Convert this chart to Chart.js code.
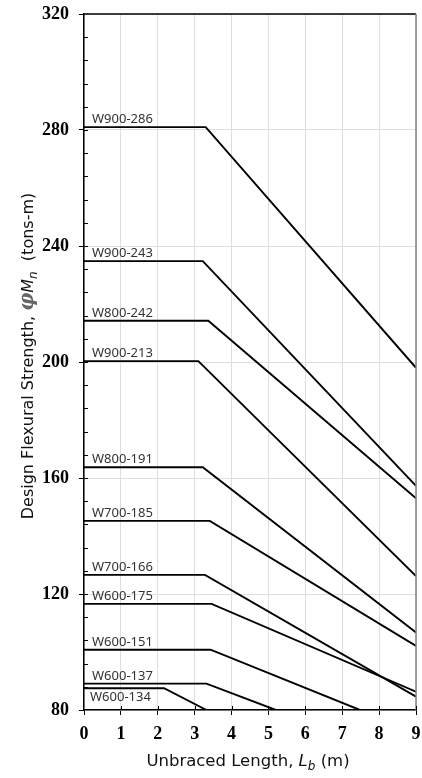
<!DOCTYPE html>
<html>

<head>
    <script src="https://cdn.jsdelivr.net/npm/chart.js@4.4.2/dist/chart.umd.min.js"></script>
    <style>
        body { margin: 0; background: #fff; }
    </style>
</head>

<body>
    <div style="position:relative; width:422px; height:778px">
        <canvas id="chart"></canvas>
    </div>
</body>
<script>
    // section names and curve points (Lb in m, phiMn in tons-m)
    const sections = ['W900-286', 'W900-243', 'W800-242', 'W900-213', 'W800-191', 'W700-185',
        'W700-166', 'W600-175', 'W600-151', 'W600-137', 'W600-134'];
    const plateauMn = [281.0, 234.8, 214.2, 200.3, 163.7, 145.2, 126.6, 116.6, 100.8, 89.1, 87.5];
    const breakLb = [3.30, 3.22, 3.37, 3.10, 3.22, 3.41, 3.28, 3.46, 3.43, 3.32, 2.17];
    const endLb = [9, 9, 9, 9, 9, 9, 9, 9, 7.48, 5.20, 3.32];
    const endMn = [198.0, 157.3, 153.0, 126.2, 106.7, 102.1, 84.6, 86.3, 80, 80, 80];
    const xTicks = [0, 1, 2, 3, 4, 5, 6, 7, 8, 9];
    const yTicks = [80, 120, 160, 200, 240, 280, 320];

    const labelBelow = ['W600-134'];

    const canvas = document.getElementById('chart');

    const datasets = sections.map((name, i) => ({
        label: name,
        data: [
            { x: 0, y: plateauMn[i] },
            { x: breakLb[i], y: plateauMn[i] },
            { x: endLb[i], y: endMn[i] }
        ],
        borderColor: '#000',
        borderWidth: 1.9,
        pointRadius: 0,
        tension: 0
    }));

    function drawParts(ctx, parts, cx, cy) {
        let total = 0;
        for (const p of parts) {
            ctx.font = p.font;
            p.w = ctx.measureText(p.text).width;
            total += p.w;
        }
        let x = cx - total / 2;
        for (const p of parts) {
            ctx.font = p.font;
            ctx.fillStyle = p.color || '#111';
            ctx.fillText(p.text, x, cy + (p.dy || 0));
            x += p.w;
        }
    }

    const decor = {
        id: 'decor',
        afterDatasetsDraw(chart) {
            const ctx = chart.ctx;
            const area = chart.chartArea;
            const xs = chart.scales.x;
            const ys = chart.scales.y;
            ctx.save();

            // series labels
            ctx.font = '13px "Noto Sans"';
            ctx.fillStyle = '#333';
            ctx.textAlign = 'left';
            chart.data.datasets.forEach((ds, i) => {
                const py = ys.getPixelForValue(ds.data[0].y);
                const px = xs.getPixelForValue(0);
                if (labelBelow.includes(ds.label)) {
                    ctx.textBaseline = 'top';
                    ctx.fillText(ds.label, px + 6, py + 3);
                } else {
                    ctx.textBaseline = 'alphabetic';
                    ctx.fillText(ds.label, px + 8, py - 4);
                }
            });

            // frame: top black, right grey
            ctx.lineWidth = 1.5;
            ctx.strokeStyle = '#000';
            ctx.beginPath();
            ctx.moveTo(area.left, area.top);
            ctx.lineTo(area.right, area.top);
            ctx.stroke();
            ctx.strokeStyle = '#808080';
            ctx.beginPath();
            ctx.moveTo(area.right, area.top);
            ctx.lineTo(area.right, area.bottom);
            ctx.stroke();

            // inner tick marks
            ctx.strokeStyle = '#000';
            ctx.lineWidth = 1;
            ctx.beginPath();
            for (const t of ys.ticks) {
                if (t.value <= ys.min || t.value >= ys.max) continue;
                const py = Math.round(ys.getPixelForValue(t.value)) + 0.5;
                ctx.moveTo(area.left, py);
                ctx.lineTo(area.left + 4, py);
            }
            for (const v of xTicks) {
                if (v === 0) continue;
                const px = Math.round(xs.getPixelForValue(v)) + 0.5;
                ctx.moveTo(px, area.bottom);
                ctx.lineTo(px, area.bottom - 4);
            }
            ctx.stroke();

            // axis titles
            ctx.textAlign = 'left';
            ctx.textBaseline = 'alphabetic';
            const sans = '"DejaVu Sans"';
            drawParts(ctx, [
                { text: 'Unbraced Length, ', font: '16.5px ' + sans },
                { text: 'L', font: 'italic 16.5px ' + sans },
                { text: 'b', font: 'italic 12px ' + sans, dy: 4 },
                { text: ' (m)', font: '16.5px ' + sans }
            ], 248, 766);

            ctx.translate(33, 356);
            ctx.rotate(-Math.PI / 2);
            drawParts(ctx, [
                { text: 'Design Flexural Strength, ', font: '16px ' + sans },
                { text: '\u03c6', font: 'italic bold 20px "DejaVu Serif"', color: '#666' },
                { text: 'M', font: 'italic 16px ' + sans },
                { text: 'n', font: 'italic 12px ' + sans, dy: 4 },
                { text: '  (tons-m)', font: '16px ' + sans }
            ], 0, 0);

            ctx.restore();
        }
    };

    const serifBold = { family: '"Liberation Serif", "Times New Roman", serif', weight: 'bold', size: 18 };

    const config = {
        type: 'line',
        data: { datasets: datasets },
        options: {
            responsive: true,
            maintainAspectRatio: false,
            animation: false,
            layout: { padding: { left: 0, right: 6, top: 14, bottom: 0 } },
            plugins: {
                legend: { display: false },
                tooltip: { enabled: false }
            },
            scales: {
                x: {
                    type: 'linear',
                    min: 0,
                    max: 9,
                    afterBuildTicks: s => { s.ticks = xTicks.map(v => ({ value: v })); },
                    ticks: { font: serifBold, color: '#000', padding: 9 },
                    grid: { color: '#dedede', lineWidth: 1, tickColor: '#000', tickLength: 5 },
                    border: { color: '#000', width: 1.5 },
                    afterFit: s => { s.height = 68; s.paddingLeft = 0; s.paddingRight = 0; }
                },
                y: {
                    min: 80,
                    max: 320,
                    ticks: {
                        stepSize: 8,
                        autoSkip: false,
                        font: serifBold,
                        color: '#000',
                        padding: 10,
                        callback: v => yTicks.includes(v) ? v : ''
                    },
                    grid: {
                        color: c => (c.tick && yTicks.includes(c.tick.value)) ? '#dedede' : 'rgba(0,0,0,0)',
                        tickColor: c => (c.tick && yTicks.includes(c.tick.value)) ? '#000' : 'rgba(0,0,0,0)',
                        tickLength: 5
                    },
                    border: { color: '#000', width: 1.5 },
                    afterFit: s => { s.width = 84; s.paddingTop = 0; s.paddingBottom = 0; }
                }
            }
        },
        plugins: [decor]
    };

    const chart = new Chart(canvas, config);
</script>

</html>
